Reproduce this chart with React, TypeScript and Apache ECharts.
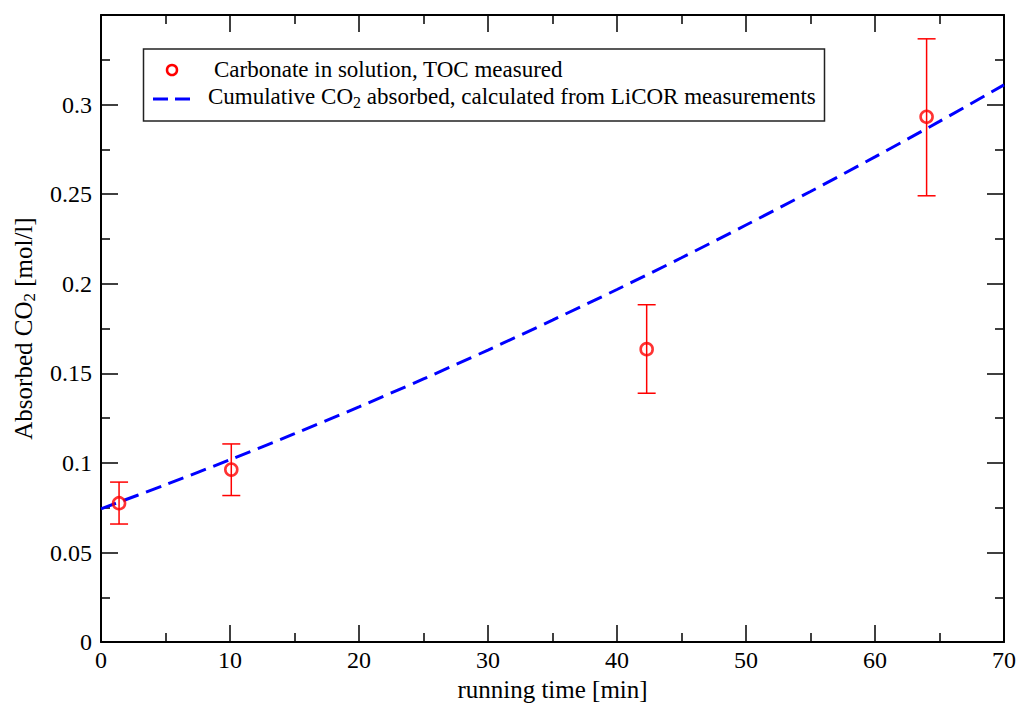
import React, { useEffect, useRef } from "react";
import * as echarts from "echarts";

// Measured carbonate (TOC): time [min], value, error low, error high
const tocTime = [1.4, 10.1, 42.3, 64.0];
const tocValue = [0.0775, 0.0963, 0.1635, 0.2932];
const tocLow = [0.0659, 0.0818, 0.1389, 0.2491];
const tocHigh = [0.0893, 0.1106, 0.1883, 0.3367];

// Cumulative CO2 absorbed from LiCOR readings
const licorTime = [0, 5, 10, 15, 20, 25, 30, 35, 40, 45, 50, 55, 60, 65, 70];
const licorValue = [
  0.0744, 0.0878, 0.1018, 0.1163, 0.1313, 0.1469, 0.163, 0.1797, 0.1968,
  0.2145, 0.2328, 0.2515, 0.2708, 0.2906, 0.311,
];

const xTicks = { min: 0, max: 70, interval: 10 };
const yTicks = { min: 0, max: 0.35, interval: 0.05 };

const FONT = "'Liberation Serif', 'Times New Roman', serif";
const RED = "#ff0000";
const BLUE = "#0000ff";
const TICK_SIZE = 24;
const NAME_SIZE = 25;
const LEGEND_SIZE = 23;

export default function App() {
  const ref = useRef<HTMLDivElement>(null);

  useEffect(() => {
    if (!ref.current) return;
    const chart = echarts.init(ref.current, null, { renderer: "svg" });

    const axisCommon = {
      axisLine: { show: true, onZero: false, lineStyle: { color: "#000", width: 2 } },
      axisTick: { show: true, inside: true, length: 17, lineStyle: { color: "#000", width: 1.5 } },
      minorTick: { show: true, splitNumber: 2, length: 9, lineStyle: { color: "#000", width: 1.5 } },
      splitLine: { show: false },
    };

    const option = {
      animation: false,
      backgroundColor: "#fff",
      grid: { left: 101, right: 19, top: 15, bottom: 61, containLabel: false },
      xAxis: [
        {
          type: "value",
          ...xTicks,
          position: "bottom",
          ...axisCommon,
          axisLabel: { color: "#000", fontFamily: FONT, fontSize: TICK_SIZE, margin: 6 },
          name: "running time [min]",
          nameLocation: "middle",
          nameGap: 30,
          nameTextStyle: { color: "#000", fontFamily: FONT, fontSize: NAME_SIZE },
        },
        {
          type: "value",
          ...xTicks,
          position: "top",
          ...axisCommon,
          axisLabel: { show: false },
        },
      ],
      yAxis: [
        {
          type: "value",
          ...yTicks,
          position: "left",
          ...axisCommon,
          axisLabel: {
            color: "#000",
            fontFamily: FONT,
            fontSize: TICK_SIZE,
            margin: 9,
            formatter: (v: number) => (v >= 0.349 ? "" : String(Math.round(v * 1000) / 1000)),
          },
          name: "{a|Absorbed CO}{s|2}{a| [mol/l]}",
          nameLocation: "middle",
          nameGap: 64,
          nameRotate: 90,
          nameTextStyle: {
            color: "#000",
            fontFamily: FONT,
            fontSize: NAME_SIZE,
            rich: {
              a: { fontFamily: FONT, fontSize: NAME_SIZE, color: "#000", lineHeight: 28 },
              s: { fontFamily: FONT, fontSize: 17, color: "#000", lineHeight: 28, padding: [13, 0, 0, 0] },
            },
          },
        },
        {
          type: "value",
          ...yTicks,
          position: "right",
          ...axisCommon,
          axisLabel: { show: false },
        },
      ],
      graphic: [
        {
          type: "rect",
          shape: { x: 143.5, y: 49, width: 681, height: 72 },
          style: { fill: "#fff", stroke: "#222", lineWidth: 1.5 },
          z: 100,
        },
        {
          type: "circle",
          shape: { cx: 172, cy: 70, r: 5 },
          style: { fill: "none", stroke: RED, lineWidth: 2.5 },
          z: 101,
        },
        {
          type: "text",
          x: 214,
          y: 69,
          style: {
            text: "Carbonate in solution, TOC measured",
            font: `${LEGEND_SIZE}px 'Liberation Serif', serif`,
            fill: "#000",
            verticalAlign: "middle",
          },
          z: 101,
        },
        {
          type: "line",
          shape: { x1: 153, y1: 99, x2: 190, y2: 99 },
          style: { stroke: BLUE, lineWidth: 3, lineDash: [15, 7] },
          z: 101,
        },
        {
          type: "text",
          x: 208,
          y: 96,
          style: {
            text: "{a|Cumulative CO}{s|2}{a| absorbed, calculated from LiCOR measurements}",
            font: `${LEGEND_SIZE}px 'Liberation Serif', serif`,
            fill: "#000",
            verticalAlign: "middle",
            rich: {
              a: { fontFamily: FONT, fontSize: LEGEND_SIZE, fill: "#000", lineHeight: 26 },
              s: { fontFamily: FONT, fontSize: 16, fill: "#000", lineHeight: 26, padding: [12, 0, 0, 0] },
            },
          },
          z: 101,
        },
      ],
      series: [
        {
          name: "Cumulative CO2 absorbed",
          type: "line",
          data: licorTime.map((t, i) => [t, licorValue[i]]),
          showSymbol: false,
          symbol: "none",
          smooth: 0.3,
          lineStyle: { color: BLUE, width: 3, type: [16, 8] },
          z: 2,
        },
        {
          name: "errors",
          type: "custom",
          data: tocTime.map((t, i) => [t, tocLow[i], tocHigh[i]]),
          renderItem: (params: any, api: any) => {
            const lo = api.coord([api.value(0), api.value(1)]);
            const hi = api.coord([api.value(0), api.value(2)]);
            const half = 9;
            const style = { stroke: RED, lineWidth: 1.5 };
            return {
              type: "group",
              children: [
                { type: "line", shape: { x1: lo[0], y1: lo[1], x2: hi[0], y2: hi[1] }, style },
                { type: "line", shape: { x1: hi[0] - half, y1: hi[1], x2: hi[0] + half, y2: hi[1] }, style },
                { type: "line", shape: { x1: lo[0] - half, y1: lo[1], x2: lo[0] + half, y2: lo[1] }, style },
              ],
            };
          },
          z: 3,
        },
        {
          name: "Carbonate in solution, TOC measured",
          type: "scatter",
          data: tocTime.map((t, i) => [t, tocValue[i]]),
          symbol: "circle",
          symbolSize: 12,
          itemStyle: { color: "transparent", borderColor: RED, borderWidth: 2.6 },
          z: 4,
        },
      ],
    };

    chart.setOption(option as any);
    return () => chart.dispose();
  }, []);

  return (
    <div
      ref={ref}
      style={{ position: "fixed", left: 0, top: 0, width: 1023, height: 707, background: "#fff" }}
    />
  );
}
